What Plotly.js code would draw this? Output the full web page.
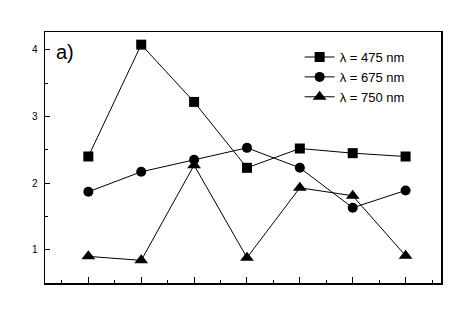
<!DOCTYPE html>
<html><head><meta charset="utf-8">
<script src="https://cdn.plot.ly/plotly-3.0.1.min.js"></script>
<style>html,body{margin:0;padding:0;background:#fff}#c{width:472px;height:334px}</style>
</head><body><div id="c"></div>
<script>
var xPos = [1, 2, 3, 4, 5, 6, 7];
var names = ["λ = 475 nm", "λ = 675 nm", "λ = 750 nm"];
var y475 = [2.40, 4.08, 3.22, 2.23, 2.52, 2.45, 2.40];
var y675 = [1.87, 2.17, 2.35, 2.53, 2.23, 1.63, 1.89];
var y750 = [0.90, 0.84, 2.27, 0.88, 1.93, 1.81, 0.91];
var yTicks = [1, 2, 3, 4];

var symbols = ["square", "circle", "triangle-up"];
var sizes = [10, 10, 12];
var series = [y475, y675, y750];
var data = series.map(function(s, i){
  return {x: xPos, y: s, name: names[i], type: "scatter", mode: "lines+markers",
    line: {color: "#000", width: 1},
    marker: {symbol: symbols[i], size: sizes[i], color: "#000"}};
});
var font = {family: "Liberation Sans, Arial, sans-serif", color: "#000", size: 10};
var layout = {
  width: 472, height: 334,
  margin: {l: 45, r: 31, t: 32, b: 51},
  paper_bgcolor: "#fff", plot_bgcolor: "#fff",
  font: font,
  showlegend: true,
  legend: {x: 0.643, y: 0.96, xanchor: "left", yanchor: "top", bgcolor: "rgba(0,0,0,0)",
    font: {family: "Liberation Sans, Arial, sans-serif", size: 13, color: "#000"},
    tracegroupgap: 0, itemwidth: 30},
  xaxis: {range: [0.18, 7.67], showgrid: false, zeroline: false, showline: true, linecolor: "#000", linewidth: 1.5,
    mirror: true, ticks: "inside", ticklen: 6, tickcolor: "#000", tickmode: "array", tickvals: xPos, showticklabels: false,
    minor: {ticks: "inside", ticklen: 3, tickcolor: "#000", dtick: 0.5, tick0: 0.5}},
  yaxis: {range: [0.5, 4.27], showgrid: false, zeroline: false, showline: true, linecolor: "#000", linewidth: 1.5,
    mirror: true, ticks: "inside", ticklen: 5, tickcolor: "#000", tickmode: "array", tickvals: yTicks,
    ticktext: yTicks.map(String), ticklabelstandoff: 4,
    minor: {ticks: "inside", ticklen: 3, tickcolor: "#000", dtick: 0.5, tick0: 0.5}},
  annotations: [{text: "a)", xref: "paper", yref: "paper", x: 0.022, y: 0.92, xanchor: "left", yanchor: "middle",
    showarrow: false, font: {family: "Liberation Sans, Arial, sans-serif", size: 20, color: "#000"}}]
};
Plotly.newPlot("c", data, layout, {staticPlot: true});
</script></body></html>
